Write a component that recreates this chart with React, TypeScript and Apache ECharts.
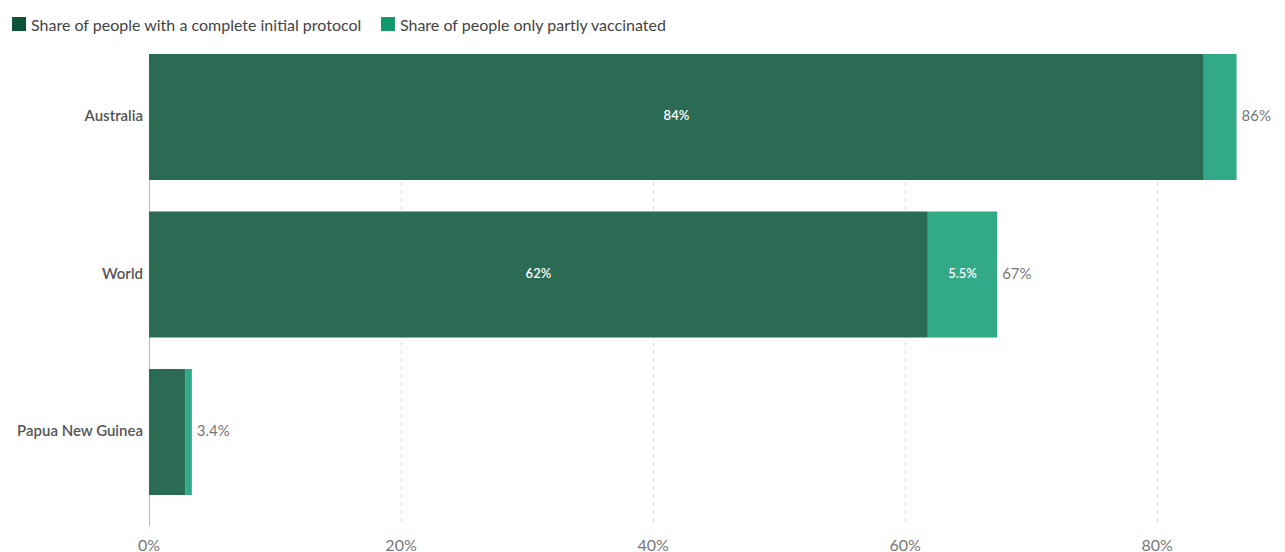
import React, { useEffect, useRef } from "react";
import * as echarts from "echarts";

const countries = ["Australia", "World", "Papua New Guinea"];
const completeProtocol = [83.7, 61.8, 2.9];
const partlyVaccinated = [2.6, 5.5, 0.5];
const xTicks = [0, 20, 40, 60, 80];

const DARK_BAR = "#2b6a53";
const LIGHT_BAR = "#33aa87";
const DARK_ICON = "#0b5437";
const LIGHT_ICON = "#13976d";
const FONT = "Lato, 'Noto Sans', sans-serif";

function fmt(v: number): string {
  return v >= 10 ? `${Math.round(v)}%` : `${v.toFixed(1)}%`;
}

export default function App() {
  const ref = useRef<HTMLDivElement>(null);
  useEffect(() => {
    if (!ref.current) return;
    const chart = echarts.init(ref.current, undefined, { renderer: "svg" });
    const totals = countries.map((_, i) => +(completeProtocol[i] + partlyVaccinated[i]).toFixed(1));
    const xMax = 88;
    chart.setOption({
      animation: false,
      textStyle: { fontFamily: FONT },
      legend: {
        left: 4,
        top: 8,
        padding: 0,
        itemWidth: 14,
        itemHeight: 14,
        itemGap: 19,
        icon: "rect",
        textStyle: { fontFamily: FONT, fontSize: 16, color: "#444" },
        data: [
          { name: "Share of people with a complete initial protocol", itemStyle: { color: DARK_ICON } },
          { name: "Share of people only partly vaccinated", itemStyle: { color: LIGHT_ICON } },
        ],
      },
      grid: [
        { left: 141, right: 19, top: 30.25, height: 472.5 },
        { left: 141, right: 19, top: 46, height: 473 },
      ],
      xAxis: [
        { type: "value", gridIndex: 0, min: 0, max: xMax, show: false, splitLine: { show: false } },
        {
          type: "value",
          gridIndex: 1,
          min: 0,
          max: xMax,
          interval: 20,
          axisLine: { show: false },
          axisTick: { show: false },
          axisLabel: {
            showMaxLabel: false,
            margin: 10,
            fontFamily: FONT,
            fontSize: 16,
            color: "#777",
            formatter: (v: number) => (xTicks.includes(v) ? `${v}%` : ""),
          },
          splitLine: { show: true, showMaxLine: false, lineStyle: { type: [4, 4], color: "#dcdcdc", width: 1 } },
        },
      ],
      yAxis: [
        {
          type: "category",
          gridIndex: 0,
          inverse: true,
          data: countries,
          axisLine: { show: false },
          axisTick: { show: false },
          axisLabel: {
            margin: 6,
            fontFamily: FONT,
            fontSize: 15,
            fontWeight: 600,
            color: "#555",
            verticalAlign: "bottom",
            lineHeight: 4,
          },
        },
        {
          type: "category",
          gridIndex: 1,
          inverse: true,
          data: countries,
          axisLine: { show: true, lineStyle: { color: "#bbb", width: 1 } },
          axisTick: { show: false },
          axisLabel: { show: false },
        },
      ],
      series: [
        {
          name: "Share of people with a complete initial protocol",
          type: "bar",
          stack: "total",
          xAxisIndex: 0,
          yAxisIndex: 0,
          barCategoryGap: "20%",
          data: completeProtocol,
          itemStyle: { color: DARK_BAR },
          label: {
            show: true,
            position: "inside",
            offset: [0, -2],
            color: "#fff",
            fontFamily: FONT,
            fontSize: 13,
            fontWeight: 600,
            formatter: (p: any) => (p.value > 5 ? fmt(p.value) : ""),
          },
        },
        {
          name: "Share of people only partly vaccinated",
          type: "bar",
          stack: "total",
          xAxisIndex: 0,
          yAxisIndex: 0,
          data: partlyVaccinated,
          itemStyle: { color: LIGHT_BAR },
          label: {
            show: true,
            position: "inside",
            offset: [0, -2],
            color: "#fff",
            fontFamily: FONT,
            fontSize: 13,
            fontWeight: 600,
            formatter: (p: any) => (p.value > 4 ? fmt(p.value) : ""),
          },
        },
        {
          name: "total",
          type: "bar",
          stack: "total",
          xAxisIndex: 0,
          yAxisIndex: 0,
          data: totals.map(() => 0),
          itemStyle: { color: "transparent" },
          label: {
            show: true,
            position: "right",
            distance: 5,
            offset: [0, -2],
            color: "#777",
            fontFamily: FONT,
            fontSize: 15,
            formatter: (p: any) => fmt(totals[p.dataIndex]),
          },
          tooltip: { show: false },
        },
      ],
    });
    return () => chart.dispose();
  }, []);
  return <div ref={ref} style={{ width: 1269, height: 544 }} />;
}
